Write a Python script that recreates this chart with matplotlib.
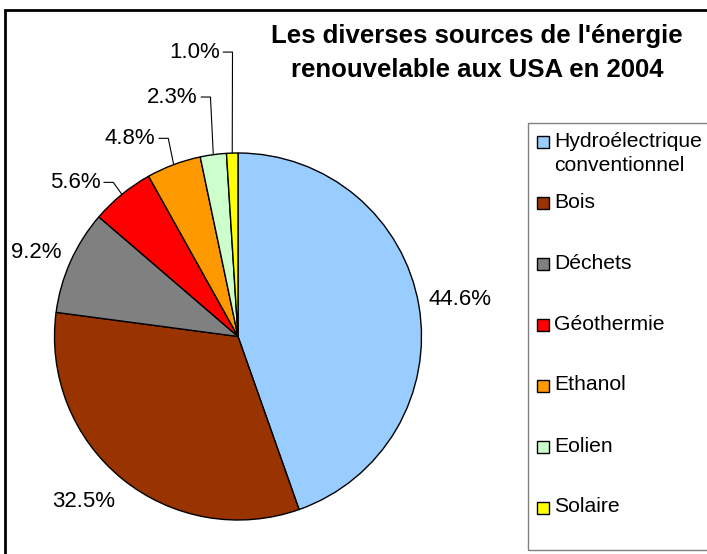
import matplotlib.pyplot as plt
from matplotlib.patches import Rectangle
import numpy as np

plt.rcParams['font.family'] = ['Liberation Sans', 'DejaVu Sans']

# data
sources = ["Hydroélectrique\nconventionnel", "Bois", "Déchets", "Géothermie",
           "Ethanol", "Eolien", "Solaire"]
shares = [44.6, 32.5, 9.2, 5.6, 4.8, 2.3, 1.0]
colors = ["#99CCFF", "#993300", "#808080", "#FF0000", "#FF9900", "#CCFFCC", "#FFFF00"]
title = "Les diverses sources de l'énergie\nrenouvelable aux USA en 2004"

# label placement (pie radius units); leader = text anchored at right end with a callout line
label_pos = [(1.21, 0.20), (-0.84, -0.90), (-1.10, 0.46), (-0.75, 0.84),
             (-0.45, 1.08), (-0.22, 1.305), (-0.10, 1.55)]
leader = [False, False, False, True, True, True, True]

W, H = 707, 554
fig = plt.figure(figsize=(W / 100, H / 100), dpi=100)

# outer frame (right / bottom run off the picture)
fig.patches.append(Rectangle((5 / W, -0.05), 1.1, 1 - 10 / H + 0.05, transform=fig.transFigure,
                             fill=False, edgecolor='black', linewidth=2))

cx, cy, r = 238, H - 336.5, 183.5
ax = fig.add_axes([(cx - r) / W, (cy - r) / H, 2 * r / W, 2 * r / H])

wedges, _ = ax.pie(shares, colors=colors, startangle=90, counterclock=False, radius=1,
                   wedgeprops=dict(edgecolor='black', linewidth=1))
ax.set_xlim(-1, 1)
ax.set_ylim(-1, 1)
ax.axis('off')

for w, v, pos, ld in zip(wedges, shares, label_pos, leader):
    txt = "%.1f%%" % v
    if ld:
        ax.text(pos[0], pos[1], txt, ha='right', va='center', fontsize=16, clip_on=False)
        mid = np.deg2rad((w.theta1 + w.theta2) / 2)
        ex, ey = np.cos(mid), np.sin(mid)
        ax.plot([pos[0] + 0.02, pos[0] + 0.07, ex], [pos[1], pos[1], ey],
                color='black', linewidth=0.8, clip_on=False)
    else:
        ax.text(pos[0], pos[1], txt, ha='center', va='center', fontsize=16, clip_on=False)

fig.text(477 / W, 1 - 53 / H, title, ha='center', va='center', fontsize=18.5,
         fontweight='bold', linespacing=1.5)

# legend box
lx, ltop, lbot = 528, 123, 550
fig.patches.append(Rectangle((lx / W, 1 - lbot / H), 0.5, (lbot - ltop) / H,
                             transform=fig.transFigure, fill=False,
                             edgecolor='#808080', linewidth=1))
for i, (name, c) in enumerate(zip(sources, colors)):
    yc = 142 if i == 0 else 202.5 + 61 * (i - 1)
    fig.patches.append(Rectangle((537 / W, 1 - (yc + 6) / H), 12 / W, 12 / H,
                                 transform=fig.transFigure, facecolor=c,
                                 edgecolor='black', linewidth=1))
    fig.text(554 / W, 1 - (yc - 10) / H, name, ha='left', va='top', fontsize=15.2,
             linespacing=1.35)

fig.savefig("out.png", dpi=100)
